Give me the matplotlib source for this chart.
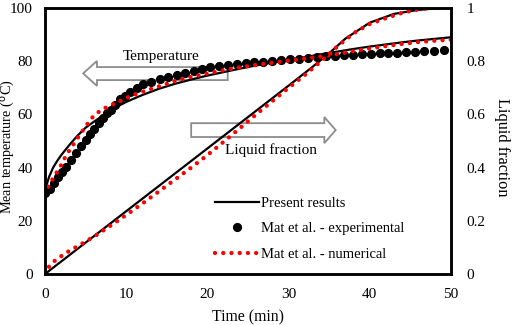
import matplotlib
matplotlib.use('Agg')
import matplotlib.pyplot as plt
from matplotlib.patches import Polygon

# --- data ---
# present results, temperature (°C)
t_present = [0, 0.25, 0.5, 1, 1.5, 2, 3, 4, 5, 6, 7, 8, 9, 10, 12, 14, 16, 18, 20,
             22, 24, 26, 28, 30, 32, 34, 36, 38, 40, 42, 44, 46, 48, 50]
T_present = [30, 34, 36.5, 40, 42.5, 44.7, 48.5, 52, 55, 57.2, 59.3, 61.4, 63.1, 64.7,
             67.3, 69.6, 71.5, 73.1, 74.6, 75.9, 77.2, 78.4, 79.5, 80.5, 81.5, 82.6,
             83.6, 84.6, 85.5, 86.3, 87.1, 87.8, 88.4, 89.0]

# Mat et al. numerical, temperature
t_num = [0, 0.5, 1, 1.5, 2, 2.5, 3, 4, 5, 6, 7, 8, 9, 10, 12, 14, 16, 18, 20, 22,
         24, 26, 28, 30, 32, 34, 36, 38, 40, 42, 44, 46, 48, 50]
T_num = [30, 33.5, 36, 38.5, 41, 44, 46.5, 51, 55.5, 59.5, 61.8, 63.3, 64.6, 66.2,
         68.5, 70.5, 72.5, 74.1, 75.4, 76.6, 77.7, 78.6, 79.4, 80.2, 81.0, 81.8,
         82.7, 83.8, 84.8, 85.7, 86.5, 87.2, 87.7, 88.1]

# Mat et al. experimental, temperature
t_exp = [0, 0.6, 1.1, 1.6, 2.1, 2.6, 3.2, 3.8, 4.4, 5.0, 5.5, 6.0, 6.6, 7.1, 7.6,
         8.1, 8.6, 9.2, 9.8, 10.5, 11.3, 12.1, 13.1, 14.2, 15.2, 16.2, 17.2, 18.3,
         19.3, 20.3, 21.4, 22.5, 23.6, 24.7, 25.8, 26.9, 28.0, 29.1, 30.2, 31.3,
         32.4, 33.5, 34.6, 35.7, 36.8, 37.9, 39.0, 40.1, 41.2, 42.3, 43.4, 44.5,
         45.6, 46.7, 47.9, 49.1]
T_exp = [30.5, 32, 34.2, 36.3, 38.3, 40.3, 43, 45.5, 48, 50.3, 52.5, 54.5, 56.8,
         58.6, 60.4, 61.8, 63.5, 65.8, 67, 68.5, 70, 71.3, 72.3, 73.3, 74.1, 74.9,
         75.7, 76.5, 77.2, 77.8, 78.2, 78.6, 79.0, 79.3, 79.6, 79.8, 80.1, 80.4,
         80.7, 81.0, 81.3, 81.6, 81.9, 82.1, 82.3, 82.4, 82.6, 82.7, 82.9, 83.0,
         83.2, 83.4, 83.6, 83.8, 84.0, 84.2]

# liquid fraction
t_lf = [0, 5, 10, 15, 20, 25, 30, 33, 35, 37, 40, 43, 46, 48, 50]
lf_present = [0, 0.118, 0.236, 0.354, 0.472, 0.59, 0.708, 0.78, 0.83, 0.885, 0.945,
              0.978, 0.993, 0.998, 1.0]

t_lf_num = [0, 0.5, 1, 2, 3, 4, 5, 6, 8, 10, 12, 14, 16, 18, 20, 22, 24, 26, 28, 30,
            32, 34, 36, 38, 40, 42, 44, 46, 47.5]
lf_num = [0, 0.028, 0.045, 0.067, 0.087, 0.104, 0.122, 0.14, 0.18, 0.222, 0.265,
          0.31, 0.355, 0.40, 0.447, 0.497, 0.548, 0.60, 0.65, 0.70, 0.748, 0.80,
          0.855, 0.905, 0.94, 0.962, 0.982, 0.995, 1.0]

RED = '#ff0000'
DOTS = (0, (0.01, 1.9))

plt.rcParams['font.family'] = ['Liberation Serif', 'DejaVu Serif']

fig = plt.figure(figsize=(5.12, 3.25), dpi=100)
ax = fig.add_axes([45 / 512, 51 / 325, 406 / 512, 266 / 325])
ax2 = ax.twinx()

l1, = ax.plot(t_present, T_present, color='black', lw=1.6, label='Present results')
l2, = ax.plot(t_exp, T_exp, linestyle='none', marker='o', ms=5.6, color='black',
              label='Mat et al. - experimental')
l3, = ax.plot(t_num, T_num, color=RED, lw=3.1, linestyle=DOTS,
              dash_capstyle='round', label='Mat et al. - numerical')

ax2.plot(t_lf, lf_present, color='black', lw=1.6)
ax2.plot(t_lf_num, lf_num, color=RED, lw=3.1, linestyle=DOTS, dash_capstyle='round')

ax.set_xlim(0, 50)
ax.set_ylim(0, 100)
ax2.set_ylim(0, 1)
ax.set_xticks([0, 10, 20, 30, 40, 50])
ax.set_yticks([0, 20, 40, 60, 80, 100])
ax2.set_yticks([0, 0.2, 0.4, 0.6, 0.8, 1.0])
ax2.set_yticklabels(['0', '0.2', '0.4', '0.6', '0.8', '1'])

for a in (ax, ax2):
    for s in a.spines.values():
        s.set_linewidth(1.8)
    a.tick_params(length=0, labelsize=11)
ax.tick_params(axis='y', pad=9)
ax.tick_params(axis='x', pad=10)
ax2.tick_params(axis='y', pad=11)

ax.set_xlabel('Time (min)', fontsize=11.3, labelpad=6)
ax.set_ylabel('Mean temperature ($^{\\mathrm{o}}$C)', fontsize=10.3, va='center')
ax.yaxis.set_label_coords(-0.091, 0.477)
ax2.set_ylabel('Liquid fraction', fontsize=11.8, rotation=270, va='bottom')
ax2.yaxis.set_label_coords(1.105, 0.475)

# hollow annotation arrows (data coords of left axis)
gray = '#8c8c8c'
arrow_t = [(22.5, 77.8), (6.4, 77.8), (6.4, 80.1), (4.7, 75.4), (6.4, 70.7),
           (6.4, 72.9), (22.5, 72.9)]
ax.add_patch(Polygon(arrow_t, closed=True, fill=False, edgecolor=gray, lw=1.3, zorder=1))
arrow_lf = [(18.0, 56.7), (34.4, 56.7), (34.4, 59.0), (35.8, 54.1), (34.4, 49.2),
            (34.4, 51.5), (18.0, 51.5)]
ax.add_patch(Polygon(arrow_lf, closed=True, fill=False, edgecolor=gray, lw=1.3, zorder=1))
ax.text(14.3, 81.6, 'Temperature', fontsize=11, ha='center', va='center')
ax.text(27.8, 46.6, 'Liquid fraction', fontsize=11, ha='center', va='center')

ax2.legend(handles=[l1, l2, l3], loc='upper left', bbox_to_anchor=(0.419, 0.291),
           frameon=False, fontsize=10.5, numpoints=1, handlelength=3.0,
           handletextpad=0.15, borderpad=0, borderaxespad=0, labelspacing=0.85)

fig.savefig('out.png', dpi=100)
